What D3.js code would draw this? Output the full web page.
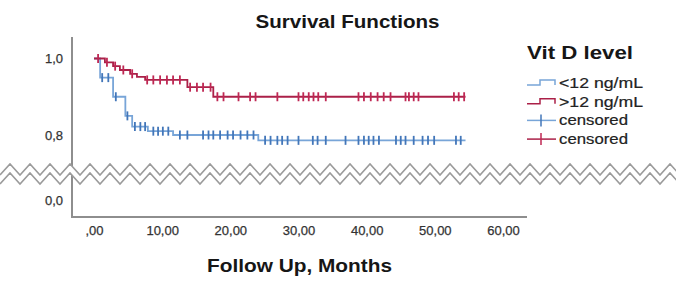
<!DOCTYPE html>
<html>
<head>
<meta charset="utf-8">
<script src="https://cdn.jsdelivr.net/npm/d3@7"></script>
<style>
  body { margin: 0; background: #fff; }
  svg { display: block; font-family: "Liberation Sans", Arial, sans-serif; }
</style>
</head>
<body>
<svg id="chart" width="676" height="290"></svg>
<script>
// x axis ticks (months) and their labels
const xTicks = [0, 10, 20, 30, 40, 50, 60]
const xTickLabels = [',00', '10,00', '20,00', '30,00', '40,00', '50,00', '60,00']
// y axis ticks, split by the axis break
const yTicksUpper = [0.8, 1.0]
const yTickLabelsUpper = ['0,8', '1,0']
const yTicksLower = [0]
const yTickLabelsLower = ['0,0']

const groups = ['<12 ng/mL', '>12 ng/mL']

// <12 ng/mL : step times and survival after each step
const lowTimes = [0, 0.9, 2.8, 4.6, 5.6, 7.9, 11.6, 24.1]
const lowSurv = [1.0, 0.95, 0.90, 0.85, 0.822, 0.81, 0.80, 0.786]
const lowEnd = 54.5
const lowCensored = [1.2, 2.1, 3.2, 4.9, 6.0, 6.8, 7.5, 8.7, 9.4, 10.1, 10.9, 12.6, 13.7,
  16.0, 16.8, 17.5, 18.5, 19.6, 20.4, 21.5, 22.5, 23.4, 25.1, 25.9, 26.9, 27.6, 28.4,
  30.0, 32.1, 32.8, 34.0, 36.9, 38.8, 39.6, 40.3, 41.0, 41.8, 44.3, 45.0, 45.7, 46.9,
  48.2, 49.0, 49.9, 53.1, 53.8]

// >12 ng/mL
const highTimes = [0, 1.6, 2.8, 3.8, 5.3, 6.3, 7.5, 13.7, 17.5]
const highSurv = [1.0, 0.99, 0.98, 0.97, 0.96, 0.952, 0.944, 0.925, 0.90]
const highEnd = 54.5
const highCensored = [0.6, 1.9, 3.1, 4.3, 5.6, 7.8, 8.7, 9.7, 10.7, 11.6, 12.6, 14.1,
  15.1, 16.0, 17.1, 18.1, 19.0, 21.2, 22.9, 23.7, 26.9, 30.0, 30.7, 31.5, 32.2, 32.9,
  34.0, 38.8, 39.6, 40.6, 41.6, 42.5, 43.5, 45.7, 46.2, 46.9, 47.6, 52.8, 53.5, 54.3]

const series = [
  { name: groups[0], times: lowTimes, surv: lowSurv, end: lowEnd, censored: lowCensored,
    line: '#78a5d8', mark: '#4276b9' },
  { name: groups[1], times: highTimes, surv: highSurv, end: highEnd, censored: highCensored,
    line: '#ab2048', mark: '#bf2753' },
]

const svg = d3.select('#chart')
const axisColor = '#8e8e8e'

const x = d3.scaleLinear().domain([0, 60]).range([94, 503])
const y = d3.scaleLinear().domain([0.8, 1.0]).range([135, 58.5])
// below the break
const yLow = d3.scaleLinear().domain([0, 0.1]).range([200, 161.7])

// axis lines
svg.append('line')
  .attr('x1', 72).attr('x2', 72).attr('y1', 37).attr('y2', 217)
  .attr('stroke', axisColor).attr('stroke-width', 2)
svg.append('line')
  .attr('x1', 71).attr('x2', 527).attr('y1', 217).attr('y2', 217)
  .attr('stroke', axisColor).attr('stroke-width', 2)

// y ticks
svg.append('g')
  .attr('transform', 'translate(66,0)')
  .call(d3.axisLeft(y).tickValues(yTicksUpper).tickSize(0)
    .tickFormat((d, i) => yTickLabelsUpper[i]))
svg.append('g')
  .attr('transform', 'translate(66,0)')
  .call(d3.axisLeft(yLow).tickValues(yTicksLower).tickSize(0)
    .tickFormat((d, i) => yTickLabelsLower[i]))

// x ticks
const xAxis = svg.append('g')
  .attr('transform', 'translate(0,226)')
  .call(d3.axisBottom(x).tickValues(xTicks).tickSize(0)
    .tickFormat((d, i) => xTickLabels[i]))

svg.selectAll('.domain').remove()
svg.selectAll('.tick text')
  .attr('font-family', '"Liberation Sans", Arial, sans-serif')
  .attr('font-size', 13)
  .attr('fill', '#333')
  .attr('stroke', '#333')
  .attr('stroke-width', 0.25)
xAxis.selectAll('.tick text').attr('dy', '0.71em').attr('y', 0)

// survival curves
const stepValue = (s, t) => s.surv[d3.bisectRight(s.times, t) - 1]

const line = d3.line()
  .curve(d3.curveStepAfter)
  .x((d) => x(d[0]))
  .y((d) => y(d[1]))

const curves = svg.append('g').attr('id', 'curves')

series.forEach((s) => {
  const pts = s.times.map((t, i) => [t, s.surv[i]])
  pts.push([s.end, s.surv[s.surv.length - 1]])

  curves.append('path')
    .datum(pts)
    .attr('d', line)
    .attr('fill', 'none')
    .attr('stroke', s.line)
    .attr('stroke-width', 1.8)

  curves.append('g')
    .selectAll('line')
    .data(s.censored)
    .join('line')
    .attr('x1', (d) => x(d))
    .attr('x2', (d) => x(d))
    .attr('y1', (d) => y(stepValue(s, d)) - 4.5)
    .attr('y2', (d) => y(stepValue(s, d)) + 4.5)
    .attr('stroke', s.mark)
    .attr('stroke-width', 1.8)
})

// axis break: two parallel zigzags with white in between
const zig = (y0) => {
  const p = []
  for (let i = 0; i <= 68; i++) p.push([i * 10, i % 2 ? y0 : y0 + 11])
  return p
}
const upperZ = zig(164)
const lowerZ = zig(173)
svg.append('path')
  .attr('d', d3.line()(upperZ.concat(lowerZ.slice().reverse())) + 'Z')
  .attr('fill', '#fff')
svg.append('path').attr('d', d3.line()(upperZ))
  .attr('fill', 'none').attr('stroke', '#9b9b9b').attr('stroke-width', 1.6)
svg.append('path').attr('d', d3.line()(lowerZ))
  .attr('fill', 'none').attr('stroke', '#9b9b9b').attr('stroke-width', 1.6)

// titles
svg.append('text')
  .attr('x', 347.5).attr('y', 28)
  .attr('text-anchor', 'middle')
  .attr('font-size', 18).attr('font-weight', 'bold').attr('fill', '#161616')
  .attr('textLength', 184).attr('lengthAdjust', 'spacingAndGlyphs')
  .text('Survival Functions')

svg.append('text')
  .attr('x', 299.5).attr('y', 272)
  .attr('text-anchor', 'middle')
  .attr('font-size', 18).attr('font-weight', 'bold').attr('fill', '#161616')
  .attr('textLength', 185).attr('lengthAdjust', 'spacingAndGlyphs')
  .text('Follow Up, Months')

// legend
const legend = svg.append('g').attr('id', 'legend')
legend.append('text')
  .attr('x', 527).attr('y', 59)
  .attr('font-size', 18).attr('font-weight', 'bold').attr('fill', '#161616')
  .attr('textLength', 106).attr('lengthAdjust', 'spacingAndGlyphs')
  .text('Vit D level')

const legendItems = [
  { label: groups[0], type: 'line', color: series[0].line },
  { label: groups[1], type: 'line', color: series[1].line },
  { label: 'censored', type: 'mark', color: series[0].line, mark: series[0].mark },
  { label: 'censored', type: 'mark', color: series[1].line, mark: series[1].mark },
]

legendItems.forEach((d, i) => {
  const b = 88 + i * 18.7
  const g = legend.append('g')
  if (d.type === 'line') {
    g.append('path')
      .attr('d', `M527,${b - 3}H540V${b - 8}H555V${b - 3}`)
      .attr('fill', 'none').attr('stroke', d.color).attr('stroke-width', 1.5)
  } else {
    g.append('line')
      .attr('x1', 527).attr('x2', 556).attr('y1', b - 5).attr('y2', b - 5)
      .attr('stroke', d.color).attr('stroke-width', 1.5)
    g.append('line')
      .attr('x1', 541).attr('x2', 541).attr('y1', b - 11).attr('y2', b + 1)
      .attr('stroke', d.mark).attr('stroke-width', 1.5)
  }
  g.append('text')
    .attr('x', 559).attr('y', b)
    .attr('font-size', 14.5).attr('fill', '#222')
    .attr('stroke', '#222').attr('stroke-width', 0.2)
    .attr('textLength', d.type === 'line' ? 84 : 69)
    .attr('lengthAdjust', 'spacingAndGlyphs')
    .text(d.label)
})
</script>
</body>
</html>
